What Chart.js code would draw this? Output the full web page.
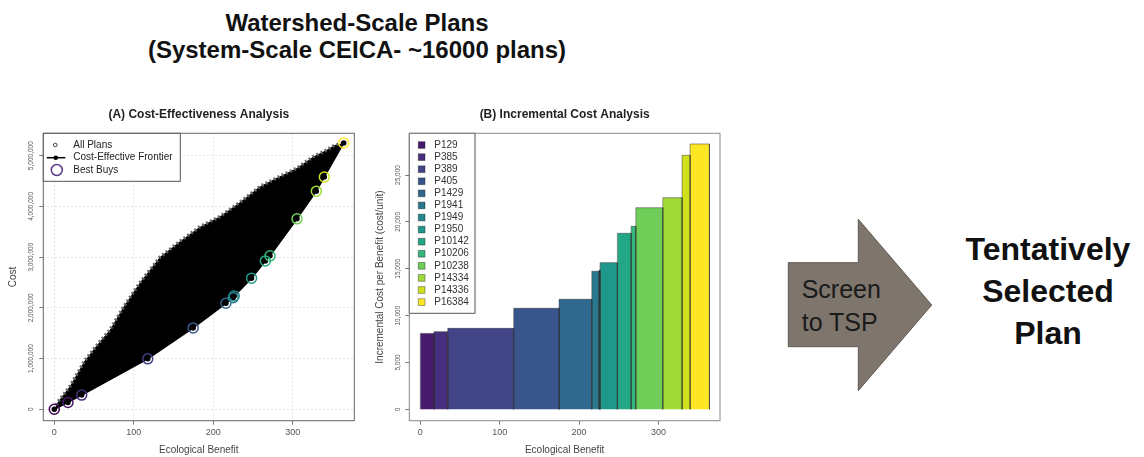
<!DOCTYPE html>
<html>
<head>
<meta charset="utf-8">
<title>Watershed-Scale Plans</title>
<script src="https://cdn.jsdelivr.net/npm/chart.js@4.4.0/dist/chart.umd.min.js"></script>
<style>
  body { margin: 0; background: #fff; font-family: 'Liberation Sans', Arial, sans-serif; }
  #page { position: relative; width: 1144px; height: 457px; overflow: hidden; }
  .abs { position: absolute; }
  #mainTitle { left: 57px; top: 8.8px; width: 600px; text-align: center; font-weight: bold; font-size: 24px; line-height: 27px; color: #111; }
  #ceaChart { left: 0; top: 100px; }
  #icaChart { left: 370px; top: 100px; }
  #arrow { left: 780px; top: 210px; }
  #arrowText { left: 801.7px; top: 272.8px; font-size: 25px; line-height: 33px; color: #1a1a1a; }
  #tsp { left: 948px; top: 228.4px; width: 200px; text-align: center; font-weight: bold; font-size: 32px; line-height: 42px; color: #111; }
</style>
</head>
<body>
<div id="page">
  <div id="mainTitle" class="abs">Watershed-Scale Plans<br>(System-Scale CEICA- ~16000 plans)</div>
  <canvas id="ceaChart" class="abs" width="370" height="357"></canvas>
  <canvas id="icaChart" class="abs" width="380" height="357"></canvas>
  <svg id="arrow" class="abs" width="160" height="190">
    <polygon points="8.3,52.7 78.3,52.7 78.3,9.3 151.7,95 78.3,180.7 78.3,136.7 8.3,136.7" fill="#7e756d" stroke="#5f5852" stroke-width="1"/>
  </svg>
  <div id="arrowText" class="abs">Screen<br>to TSP</div>
  <div id="tsp" class="abs">Tentatively<br>Selected<br>Plan</div>
</div>
<script>
const fontFamily = "'Liberation Sans', Arial, sans-serif"
Chart.defaults.font.family = fontFamily
Chart.defaults.color = '#555'

// best buy plans (viridis order)
const planNames = ['P129', 'P385', 'P389', 'P405', 'P1429', 'P1941', 'P1949', 'P1950',
    'P10142', 'P10206', 'P10238', 'P14334', 'P14336', 'P16384']
const planColors = ['#481a6c', '#472f7d', '#414487', '#39568c', '#31688e', '#2a788e', '#23888e',
    '#1f988b', '#22a884', '#35b779', '#6ece58', '#a0da39', '#d0e11c', '#fde725']
const nullPlanColor = '#440154'

// cost-effective frontier / best buys, first one is the no-action plan
const bestBuyBenefit = [0, 17.2, 34.5, 117.6, 174.8, 216, 225.2, 226.5, 248.3, 265.6, 271.5, 305.5, 329.8, 339.9, 364.3]
const bestBuyCost = [0, 135000, 280000, 995000, 1605000, 2090000, 2200000, 2235000, 2585000, 2925000,
    3025000, 3755000, 4300000, 4580000, 5250000]

// incremental cost per unit of benefit for each best buy
const incrementalCost = [8100, 8290, 8640, 10780, 11740, 14730, 14850, 15650, 18780, 19520, 21510, 22580, 27100, 28310]

// upper edge of the cloud of all ~16000 plans (lower edge is the frontier)
const cloudEdgeBenefit = [0, 4.7, 19.4, 38, 52.8, 69.7, 86.4, 107.8, 133, 158, 183.3, 208.4, 233.6, 258.7,
    279.7, 304.9, 325.8, 342.6, 353, 364.3]
const cloudEdgeCost = [0, 150000, 450000, 950000, 1250000, 1560000, 2000000, 2500000, 3000000, 3310000,
    3600000, 3800000, 4080000, 4390000, 4560000, 4750000, 4980000, 5110000, 5210000, 5250000]

const benefitTicks = [0, 100, 200, 300]
const costTicks = [0, 1000000, 2000000, 3000000, 4000000, 5000000]
const incCostTicks = [0, 5000, 10000, 15000, 20000, 25000]

const fixedTicks = values => axis => {
    axis.ticks = values.map(value => ({value}))
}
const withCommas = v => v.toLocaleString('en-US')

const framePlugin = {
    id: 'frame',
    afterDraw: (chart, args, opts) => {
        const {ctx, chartArea: {left, top, width, height}} = chart
        ctx.save()
        ctx.strokeStyle = opts.color
        ctx.lineWidth = 1
        ctx.strokeRect(left, top, width, height)
        ctx.restore()
    }
}

const chartTitle = text => ({
    display: true,
    text,
    fullSize: false,
    color: '#222',
    font: {size: 12, weight: 'bold'},
    padding: {top: 7.8, bottom: 11.1}
})

const benefitAxis = gridOnArea => ({
    type: 'linear',
    min: -13.85,
    max: 377.6,
    afterBuildTicks: fixedTicks(benefitTicks),
    afterFit: s => { s.height = 36.3 },
    ticks: {autoSkip: false, maxRotation: 0, padding: 2.9, color: '#555', font: {size: 9}},
    grid: {drawOnChartArea: gridOnArea, color: '#e4e4e4', tickLength: 4, tickColor: '#777'},
    border: {display: false, dash: [2, 2]},
    title: {display: true, text: 'Ecological Benefit', color: '#444', font: {size: 10}, padding: {top: 0, bottom: 1}}
})

// (A) cost-effectiveness scatter
const ceaLegend = {
    id: 'ceaLegend',
    afterDatasetsDraw: chart => {
        const {ctx, chartArea: {left, top}} = chart
        ctx.save()
        ctx.fillStyle = '#fff'
        ctx.strokeStyle = '#555'
        ctx.lineWidth = 1
        ctx.fillRect(left, top, 137, 48)
        ctx.strokeRect(left, top, 137, 48)
        ctx.font = '10px ' + fontFamily
        ctx.textBaseline = 'middle'
        ctx.fillStyle = '#222'
        ctx.fillText('All Plans', left + 30, top + 11.7)
        ctx.fillText('Cost-Effective Frontier', left + 30, top + 24.4)
        ctx.fillText('Best Buys', left + 30, top + 36.7)
        ctx.beginPath()
        ctx.arc(left + 12, top + 11.7, 1.8, 0, Math.PI * 2)
        ctx.strokeStyle = '#444'
        ctx.stroke()
        ctx.beginPath()
        ctx.moveTo(left + 3.5, top + 24.4)
        ctx.lineTo(left + 22, top + 24.4)
        ctx.strokeStyle = '#000'
        ctx.lineWidth = 1.5
        ctx.stroke()
        ctx.beginPath()
        ctx.arc(left + 12.5, top + 24.4, 2.3, 0, Math.PI * 2)
        ctx.fillStyle = '#000'
        ctx.fill()
        ctx.beginPath()
        ctx.arc(left + 13.5, top + 36.7, 5.5, 0, Math.PI * 2)
        ctx.strokeStyle = '#5d3b8c'
        ctx.stroke()
        ctx.restore()
    }
}

const bestBuyPoints = bestBuyBenefit.map((x, i) => ({x, y: bestBuyCost[i]}))
const cloudEdge = cloudEdgeBenefit.map((x, i) => ({x, y: cloudEdgeCost[i]}))

new Chart(document.getElementById('ceaChart'), {
    type: 'scatter',
    data: {
        datasets: [
            {
                label: 'Best Buys',
                data: bestBuyPoints,
                showLine: false,
                pointRadius: 5,
                pointBorderWidth: 1.5,
                pointBackgroundColor: 'rgba(0,0,0,0)',
                pointBorderColor: [nullPlanColor, ...planColors],
                order: 0
            },
            {
                label: 'Cost-Effective Frontier',
                data: bestBuyPoints,
                showLine: true,
                borderColor: '#000',
                borderWidth: 1.5,
                pointRadius: 2,
                pointBackgroundColor: '#000',
                pointBorderColor: '#000',
                order: 1
            },
            {
                // speckled grey rim mimics the open circles at the edge of the cloud
                label: 'All Plans',
                data: cloudEdge,
                showLine: true,
                borderColor: 'rgba(95,95,95,0.9)',
                borderWidth: 3.5,
                borderDash: [2, 2.5],
                pointRadius: 0,
                backgroundColor: '#000',
                fill: 1,
                order: 2
            }
        ]
    },
    options: {
        responsive: false,
        devicePixelRatio: 1,
        animation: false,
        events: [],
        layout: {padding: {left: 0, top: 0, right: 15.7, bottom: 0}},
        plugins: {
            legend: {display: false},
            tooltip: {enabled: false},
            title: chartTitle('(A) Cost-Effectiveness Analysis'),
            frame: {color: '#666'}
        },
        scales: {
            x: benefitAxis(true),
            y: {
                type: 'linear',
                min: -224800,
                max: 5441000,
                afterBuildTicks: fixedTicks(costTicks),
                afterFit: s => { s.width = 43.3 },
                ticks: {
                    autoSkip: false, minRotation: 90, maxRotation: 90, crossAlign: 'center',
                    padding: -6.86, color: '#555', font: {size: 6.5}, callback: withCommas
                },
                grid: {drawOnChartArea: true, color: '#e4e4e4', tickLength: 4, tickColor: '#777'},
                border: {display: false, dash: [2, 2]},
                title: {display: true, text: 'Cost', color: '#444', font: {size: 10}, padding: {top: 7, bottom: 0}}
            }
        }
    },
    plugins: [framePlugin, ceaLegend]
})

// (B) incremental cost bars, widths from the frontier benefits
const icaLegend = {
    id: 'icaLegend',
    afterDatasetsDraw: chart => {
        const {ctx, chartArea: {left, top}} = chart
        ctx.save()
        ctx.fillStyle = '#fff'
        ctx.strokeStyle = '#555'
        ctx.lineWidth = 1
        ctx.fillRect(left, top, 65.7, 180)
        ctx.strokeRect(left, top, 65.7, 180)
        ctx.font = '10px ' + fontFamily
        ctx.textBaseline = 'middle'
        chart.data.datasets.forEach((ds, i) => {
            const y = top + 11.7 + i * 12.08
            ctx.fillStyle = ds.backgroundColor
            ctx.fillRect(left + 9, y - 3.3, 6.7, 6.7)
            ctx.strokeStyle = 'rgba(0,0,0,0.35)'
            ctx.strokeRect(left + 9, y - 3.3, 6.7, 6.7)
            ctx.fillStyle = '#333'
            ctx.fillText(ds.label, left + 25, y)
        })
        ctx.restore()
    }
}

const barDatasets = incrementalCost.map((h, i) => {
    const x0 = bestBuyBenefit[i]
    const x1 = bestBuyBenefit[i + 1]
    return {
        label: planNames[i],
        data: [{x: x0, y: 0}, {x: x0, y: h}, {x: x1, y: h}, {x: x1, y: 0}],
        showLine: true,
        fill: 'origin',
        backgroundColor: planColors[i],
        borderColor: 'rgba(40,40,40,0.45)',
        borderWidth: 1,
        pointRadius: 0
    }
})

new Chart(document.getElementById('icaChart'), {
    type: 'scatter',
    data: {datasets: barDatasets},
    options: {
        responsive: false,
        devicePixelRatio: 1,
        animation: false,
        events: [],
        layout: {padding: {left: 0, top: 0, right: 30, bottom: 0}},
        plugins: {
            legend: {display: false},
            tooltip: {enabled: false},
            title: chartTitle('(B) Incremental Cost Analysis'),
            frame: {color: '#888'}
        },
        scales: {
            x: benefitAxis(false),
            y: {
                type: 'linear',
                min: -1213,
                max: 29449,
                afterBuildTicks: fixedTicks(incCostTicks),
                afterFit: s => { s.width = 39.3 },
                ticks: {
                    autoSkip: false, minRotation: 90, maxRotation: 90, crossAlign: 'center',
                    padding: -3.24, color: '#555', font: {size: 6.5}, callback: withCommas
                },
                grid: {drawOnChartArea: false, tickLength: 4, tickColor: '#777'},
                border: {display: false},
                title: {
                    display: true, text: 'Incremental Cost per Benefit (cost/unit)', color: '#444',
                    font: {size: 10}, padding: {top: 4, bottom: 0}
                }
            }
        }
    },
    plugins: [framePlugin, icaLegend]
})
</script>
</body>
</html>
